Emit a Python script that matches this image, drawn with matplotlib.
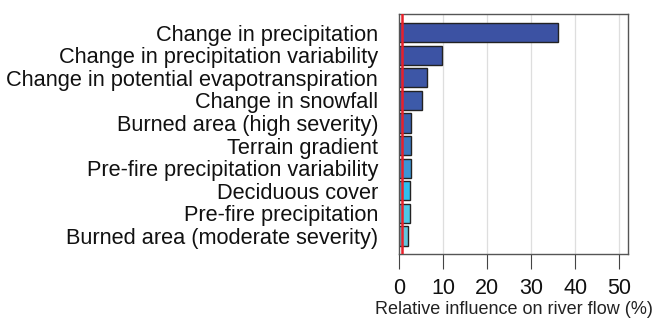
import matplotlib
matplotlib.use("Agg")
import matplotlib.pyplot as plt

# ─── Data (top to bottom) ─────────────────────────────────────────────────────

LABELS = [
    "Change in precipitation",
    "Change in precipitation variability",
    "Change in potential evapotranspiration",
    "Change in snowfall",
    "Burned area (high severity)",
    "Terrain gradient",
    "Pre-fire precipitation variability",
    "Deciduous cover",
    "Pre-fire precipitation",
    "Burned area (moderate severity)",
]
VALUES = [36.1, 9.8, 6.4, 5.3, 2.7, 2.7, 2.7, 2.5, 2.5, 2.0]
COLORS = ["#3c52a3", "#3c53a4", "#3d56a6", "#3d5aa9", "#3a62b0",
          "#3c78c0", "#3b95d5", "#2fbfee", "#4ec8e6", "#63c7dc"]
XTICKS = [0, 10, 20, 30, 40, 50]
RED_LINE = 0.6

# ─── Plot ─────────────────────────────────────────────────────────────────────

plt.rcParams["font.family"] = ["Liberation Sans", "DejaVu Sans"]

fig = plt.figure(figsize=(6.55, 3.18), dpi=100)
ax = fig.add_axes([399 / 655, 1 - 254 / 318, 229 / 655, 240 / 318])

n = len(LABELS)
ypos = [n - 1 - i for i in range(n)]

for x in XTICKS[1:]:
    ax.axvline(x, color="#dedede", lw=0.9, zorder=0)

ax.barh(ypos, VALUES, height=0.85, color=COLORS, edgecolor="#222222",
        linewidth=1.0, zorder=2)
ax.axvline(RED_LINE, color="#e8202a", lw=1.8, zorder=3)

ax.set_xlim(0, 52)
ax.set_ylim(-0.8, n - 1 + 0.82)
ax.set_yticks(ypos)
ax.set_yticklabels(LABELS, fontsize=15.7, color="#111111")
ax.tick_params(axis="y", length=0, pad=15)
ax.set_xticks(XTICKS)
ax.tick_params(axis="x", length=11, width=0.8, color="#444444",
               labelsize=15.5, pad=6, labelcolor="#111111")
ax.set_xlabel("Relative influence on river flow (%)", fontsize=13,
              color="#222222")
ax.xaxis.set_label_coords(0.5, -0.195)

for s in ax.spines.values():
    s.set_color("#555555")
    s.set_linewidth(1.0)

plt.savefig("out.png", dpi=100)
